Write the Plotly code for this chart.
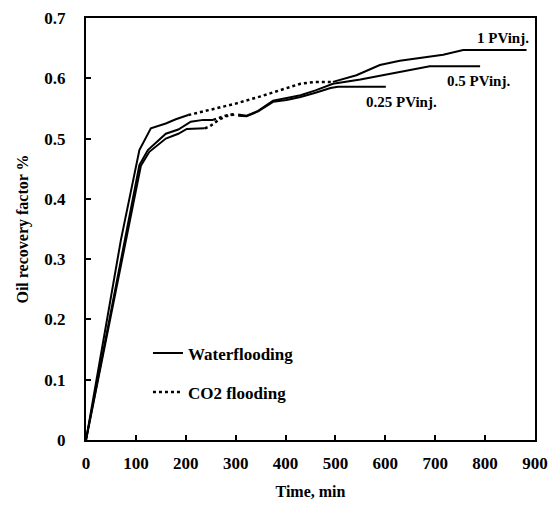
import plotly.graph_objects as go

# ---- data (time in min, oil recovery factor) ----
# Experiment labelled "1 PVinj."
t_1pv_water1 = [0, 70, 107, 130, 160, 180, 205]
r_1pv_water1 = [0, 0.332, 0.481, 0.517, 0.525, 0.532, 0.539]
t_1pv_co2 = [205, 250, 300, 350, 390, 430, 460, 495]
r_1pv_co2 = [0.539, 0.548, 0.558, 0.570, 0.581, 0.591, 0.594, 0.594]
t_1pv_water2 = [495, 542, 589, 629, 716, 756, 883]
r_1pv_water2 = [0.594, 0.605, 0.622, 0.629, 0.639, 0.647, 0.647]

# Experiment labelled "0.5 PVinj."
t_05pv_water1 = [0, 77, 107, 124, 160, 185, 200, 210, 235, 255]
r_05pv_water1 = [0, 0.332, 0.456, 0.481, 0.508, 0.515, 0.522, 0.528, 0.531, 0.531]
t_05pv_co2 = [255, 265, 280, 298]
r_05pv_co2 = [0.531, 0.534, 0.538, 0.541]
t_05pv_water2 = [305, 322, 345, 375, 400, 430, 460, 495, 550, 596, 640, 689, 790]
r_05pv_water2 = [0.540, 0.538, 0.546, 0.563, 0.567, 0.572, 0.580, 0.591, 0.598, 0.605, 0.612, 0.620, 0.620]

# Experiment labelled "0.25 PVinj."
t_025pv_water1 = [0, 80, 110, 127, 160, 185, 202, 238]
r_025pv_water1 = [0, 0.332, 0.455, 0.478, 0.500, 0.508, 0.516, 0.517]
t_025pv_co2 = [238, 248, 258, 268, 280, 298]
r_025pv_co2 = [0.517, 0.520, 0.526, 0.532, 0.537, 0.540]
t_025pv_water2 = [305, 322, 345, 375, 402, 430, 460, 490, 505, 601]
r_025pv_water2 = [0.538, 0.537, 0.545, 0.561, 0.564, 0.569, 0.576, 0.584, 0.586, 0.586]

curve_labels = ["1 PVinj.", "0.5 PVinj.", "0.25 PVinj."]
label_x = [836, 786, 632]
label_y = [0.667, 0.595, 0.561]

x_ticks = [0, 100, 200, 300, 400, 500, 600, 700, 800, 900]
y_ticks = [0, 0.1, 0.2, 0.3, 0.4, 0.5, 0.6, 0.7]

FONT = "Liberation Serif"

fig = go.Figure()

water_segments = [
    (t_1pv_water1, r_1pv_water1), (t_1pv_water2, r_1pv_water2),
    (t_05pv_water1, r_05pv_water1), (t_05pv_water2, r_05pv_water2),
    (t_025pv_water1, r_025pv_water1), (t_025pv_water2, r_025pv_water2),
]
co2_segments = [
    (t_1pv_co2, r_1pv_co2), (t_05pv_co2, r_05pv_co2), (t_025pv_co2, r_025pv_co2),
]

for t, r in water_segments:
    fig.add_trace(go.Scatter(x=t, y=r, mode="lines", showlegend=False,
                             line=dict(color="black", width=2)))
for t, r in co2_segments:
    fig.add_trace(go.Scatter(x=t, y=r, mode="lines", showlegend=False,
                             line=dict(color="black", width=2.5, dash="dot")))

# legend entries
fig.add_trace(go.Scatter(x=[None], y=[None], mode="lines", name="Waterflooding",
                         legendgroup="w", line=dict(color="black", width=2)))
fig.add_trace(go.Scatter(x=[None], y=[None], mode="lines", name="CO2 flooding",
                         legendgroup="c", line=dict(color="black", width=2.5, dash="dot")))

for txt, x, y in zip(curve_labels, label_x, label_y):
    fig.add_annotation(x=x, y=y, text=txt, showarrow=False,
                       font=dict(family=FONT, size=15, color="black", weight="bold"))

axis_common = dict(showline=True, linecolor="black", linewidth=2, mirror=True,
                   ticks="inside", ticklen=5, tickwidth=1.5, tickcolor="black",
                   showgrid=False, zeroline=False, automargin=False,
                   tickfont=dict(family=FONT, size=17, color="black", weight="bold"))

fig.update_xaxes(range=[0, 900], tickvals=x_ticks,
                 ticktext=[str(v) for v in x_ticks], ticklabelstandoff=7,
                 title=dict(text="Time, min", standoff=13,
                            font=dict(family=FONT, size=16, color="black", weight="bold")),
                 **axis_common)
fig.update_yaxes(range=[0, 0.7], tickvals=y_ticks,
                 ticktext=["0" if v == 0 else f"{v:.1f}" for v in y_ticks],
                 ticklabelstandoff=15,
                 title=dict(text="Oil recovery factor %", standoff=12,
                            font=dict(family=FONT, size=16, color="black", weight="bold")),
                 **axis_common)

fig.update_layout(
    width=550, height=506,
    margin=dict(l=86, r=15, t=18, b=66),
    plot_bgcolor="white", paper_bgcolor="white",
    font=dict(family=FONT, color="black"),
    legend=dict(x=0.138, y=0.248, xanchor="left", yanchor="top",
                bgcolor="rgba(0,0,0,0)", tracegroupgap=14,
                font=dict(family=FONT, size=17, color="black", weight="bold")),
)

fig.write_html("out.html", config={"displayModeBar": False},
               post_script="document.body.style.margin='0';document.body.style.overflow='hidden';")
